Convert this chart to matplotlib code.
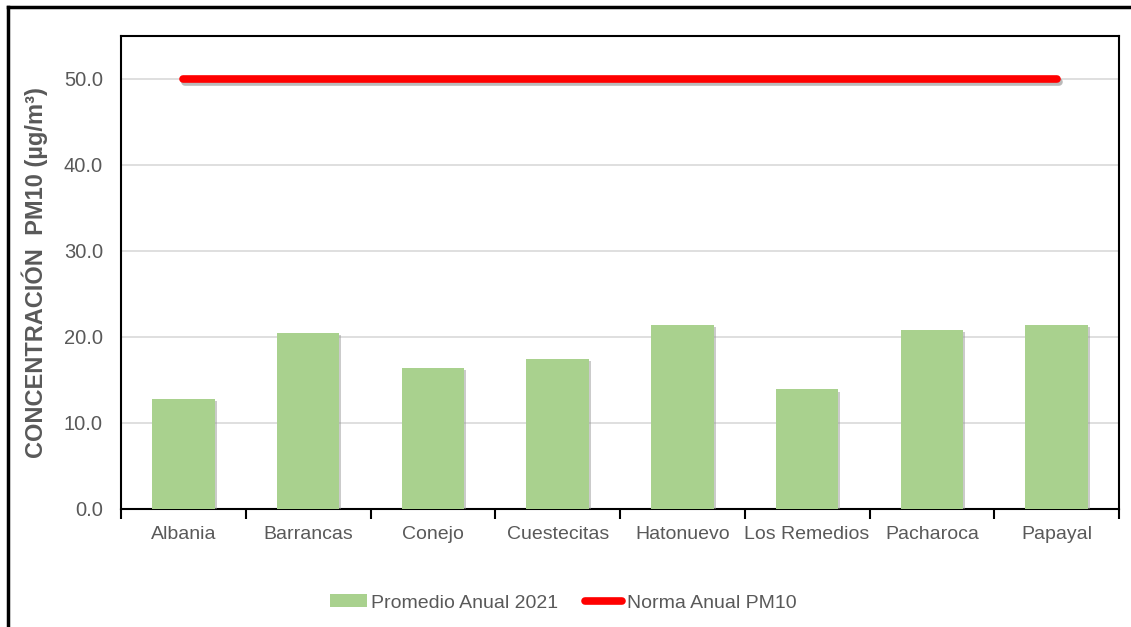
import matplotlib
matplotlib.use("Agg")
import matplotlib.pyplot as plt
import matplotlib.patheffects as pe
from matplotlib.lines import Line2D
from matplotlib.patches import Patch
import numpy as np

categories = ["Albania", "Barrancas", "Conejo", "Cuestecitas", "Hatonuevo",
              "Los Remedios", "Pacharoca", "Papayal"]
promedio_2021 = [12.8, 20.5, 16.4, 17.4, 21.4, 13.9, 20.8, 21.4]
norma_pm10 = [50.0] * len(categories)
y_ticks = [0, 10, 20, 30, 40, 50]

plt.rcParams['font.family'] = ['Liberation Sans', 'DejaVu Sans']

fig = plt.figure(figsize=(11.31, 6.27), dpi=100)
ax = fig.add_axes([121/1131, (627-509)/627, (1119-121)/1131, (509-36)/627])

x = np.arange(len(categories))
grey = "#595959"
bar_color = "#a9d18e"

shadow = [pe.SimplePatchShadow(offset=(1.5, -1.5), shadow_rgbFace="#999999", alpha=0.5), pe.Normal()]
ax.bar(x, promedio_2021, width=0.5, color=bar_color, zorder=3, path_effects=shadow)

line_shadow = [pe.SimpleLineShadow(offset=(1.5, -2), shadow_color="#777777", alpha=0.5), pe.Normal()]
ax.plot(x, norma_pm10, color="#ff0000", linewidth=5.5, solid_capstyle="round", zorder=4,
        path_effects=line_shadow)

ax.set_xlim(-0.5, len(categories) - 0.5)
ax.set_ylim(0, 55)
ax.set_yticks(y_ticks)
ax.set_yticklabels([f"{v:.1f}" for v in y_ticks])
ax.yaxis.grid(True, color="#d9d9d9", linewidth=1.2, zorder=0)
ax.set_axisbelow(True)

ax.set_xticks(x)
ax.set_xticklabels(categories)
ax.set_xticks(np.arange(len(categories) + 1) - 0.5, minor=True)
ax.tick_params(axis="x", which="major", length=0, pad=12, labelsize=14, labelcolor=grey)
ax.tick_params(axis="x", which="minor", length=7, width=1.5, color="black", direction="out")
ax.tick_params(axis="y", length=0, pad=13, labelsize=14.5, labelcolor=grey)

for s in ax.spines.values():
    s.set_color("black")
    s.set_linewidth(1.5)

ax.set_ylabel("CONCENTRACIÓN  PM10 (µg/m³)", fontsize=17, fontweight="bold", color=grey)
ax.yaxis.set_label_coords(-(121-48)/(1119-121), 0.5)

handles = [Patch(facecolor=bar_color, edgecolor="none"),
           Line2D([0], [0], color="#ff0000", linewidth=5.5, solid_capstyle="round")]
leg = fig.legend(handles, ["Promedio Anual 2021", "Norma Anual PM10"],
                 loc="center", bbox_to_anchor=(563/1131, 1 - 603/627), ncol=2,
                 frameon=False, fontsize=14, handlelength=1.9, handletextpad=0.25,
                 columnspacing=1.35, handleheight=0.65)
for t in leg.get_texts():
    t.set_color(grey)

# outer frame (left and top edges visible)
fig.add_artist(Line2D([8/1131, 8/1131], [0, 1 - 7/627], transform=fig.transFigure,
                      color="black", linewidth=2.5))
fig.add_artist(Line2D([8/1131, 1], [1 - 7/627, 1 - 7/627], transform=fig.transFigure,
                      color="black", linewidth=2.5))

fig.savefig("out.png", dpi=100)
